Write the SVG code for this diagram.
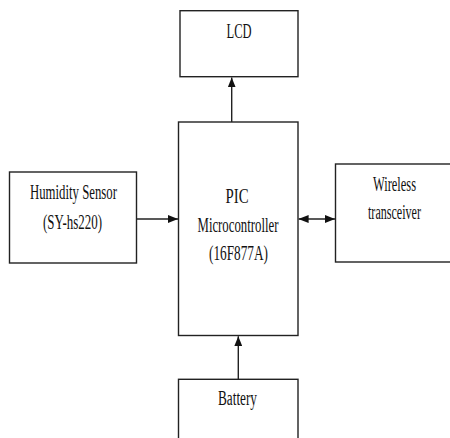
<svg xmlns="http://www.w3.org/2000/svg" width="450" height="438" viewBox="0 0 450 438">
<style>
.box{fill:#fff;stroke:#222;stroke-width:1.4}
.lbl{font-family:"Liberation Serif","Times New Roman",serif;font-size:20.5px;fill:#111;text-anchor:middle}
.conn{stroke:#222;stroke-width:1.4;fill:none}
</style>
<defs>
<marker id="ah" viewBox="0 0 10 8" refX="10" refY="4" markerWidth="10" markerHeight="8" markerUnits="userSpaceOnUse" orient="auto-start-reverse">
<path d="M0,0 L10,4 L0,8 Z" fill="#111"/>
</marker>
</defs>
<rect width="450" height="438" fill="#fff"/>
<g id="lcd">
<rect class="box" x="180" y="10.7" width="118" height="66"/>
<text class="lbl" x="239" y="38" textLength="25" lengthAdjust="spacingAndGlyphs">LCD</text>
</g>
<g id="pic">
<rect class="box" x="178.5" y="122" width="119.5" height="213.5"/>
<text class="lbl" x="237" y="203" textLength="23" lengthAdjust="spacingAndGlyphs">PIC</text>
<text class="lbl" x="238" y="232" textLength="81" lengthAdjust="spacingAndGlyphs">Microcontroller</text>
<text class="lbl" x="238.5" y="260" textLength="59" lengthAdjust="spacingAndGlyphs">(16F877A)</text>
</g>
<g id="humidity">
<rect class="box" x="9.5" y="172" width="127" height="91"/>
<text class="lbl" x="73.5" y="199" textLength="87" lengthAdjust="spacingAndGlyphs">Humidity Sensor</text>
<text class="lbl" x="72.5" y="229" textLength="59" lengthAdjust="spacingAndGlyphs">(SY-hs220)</text>
</g>
<g id="wireless">
<rect class="box" x="335.5" y="164" width="120" height="98"/>
<text class="lbl" x="394.5" y="191" textLength="43" lengthAdjust="spacingAndGlyphs">Wireless</text>
<text class="lbl" x="394.5" y="219" textLength="53" lengthAdjust="spacingAndGlyphs">transceiver</text>
</g>
<g id="battery">
<rect class="box" x="178.5" y="379.3" width="119.5" height="70"/>
<text class="lbl" x="237.5" y="405" textLength="39" lengthAdjust="spacingAndGlyphs">Battery</text>
</g>
<g id="connectors">
<line class="conn" x1="231.7" y1="122" x2="231.7" y2="77.4" marker-end="url(#ah)"/>
<line class="conn" x1="136.5" y1="219" x2="178" y2="219" marker-end="url(#ah)"/>
<line class="conn" x1="298.6" y1="219" x2="335" y2="219" marker-start="url(#ah)" marker-end="url(#ah)"/>
<line class="conn" x1="238.3" y1="379" x2="238.3" y2="336.2" marker-end="url(#ah)"/>
</g>
</svg>
